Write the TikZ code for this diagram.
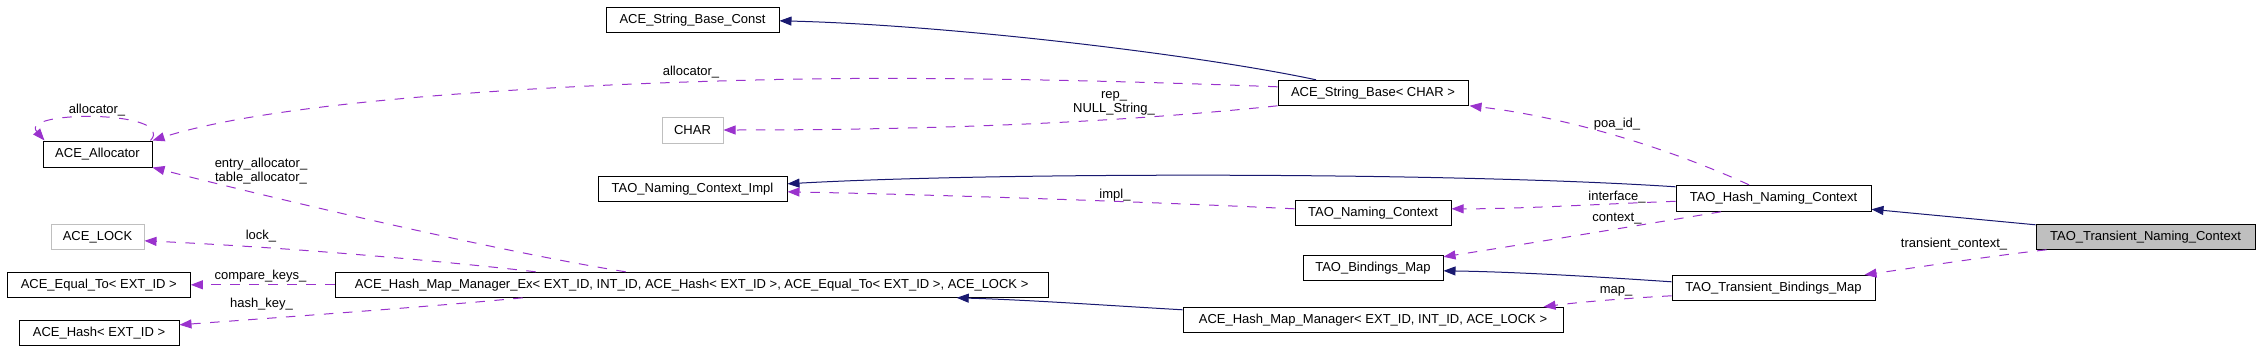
\documentclass[tikz,border=0pt]{standalone}
\usepackage{fontspec}
\setmainfont{Liberation Sans}
\usetikzlibrary{arrows.meta}
\definecolor{edgenavy}{HTML}{191970}
\definecolor{edgepurple}{HTML}{9A32CD}
\definecolor{boxgray}{HTML}{BFBFBF}
\tikzset{
  box/.style={draw=black, line width=1pt, minimum height=25pt, inner sep=0pt, font=\fontsize{13}{13}\selectfont},
  graybox/.style={box, draw=boxgray},
  inh/.style={draw=edgenavy, line width=1pt, -{Triangle[length=12pt,width=9pt]}},
  usage/.style={draw=edgepurple, line width=1pt, dash pattern=on 9.5pt off 9.5pt, -{Triangle[length=12pt,width=9pt]}},
  lbl/.style={font=\fontsize{13}{14}\selectfont, inner sep=0pt, align=center}
}
\begin{document}
\begin{tikzpicture}[x=1pt,y=-1pt]
\useasboundingbox (0,0) rectangle (2259,361);
% nodes
\node[box, minimum width=109pt, minimum height=26pt] (alloc) at (97.5,154) {ACE\_Allocator};
\node[graybox, minimum width=93pt] (lock) at (97.5,236.8) {ACE\_LOCK};
\node[box, minimum width=183pt] (eq) at (98.8,284.8) {ACE\_Equal\_To< EXT\_ID >};
\node[box, minimum width=160pt] (hash) at (99,332.8) {ACE\_Hash< EXT\_ID >};
\node[box, minimum width=173pt] (sbc) at (692.5,19.8) {ACE\_String\_Base\_Const};
\node[graybox, minimum width=61pt, minimum height=26pt] (char) at (692.5,130) {CHAR};
\node[box, minimum width=189pt] (nci) at (692.5,188.8) {TAO\_Naming\_Context\_Impl};
\node[box, minimum width=713pt] (hmmex) at (691.7,284.8) {ACE\_Hash\_Map\_Manager\_Ex< EXT\_ID, INT\_ID, ACE\_Hash< EXT\_ID >, ACE\_Equal\_To< EXT\_ID >, ACE\_LOCK >};
\node[box, minimum width=190pt] (sb) at (1373,92.8) {ACE\_String\_Base< CHAR >};
\node[box, minimum width=156pt] (nc) at (1373,212.8) {TAO\_Naming\_Context};
\node[box, minimum width=140pt] (bm) at (1373,267.8) {TAO\_Bindings\_Map};
\node[box, minimum width=380pt] (hmm) at (1373,319.8) {ACE\_Hash\_Map\_Manager< EXT\_ID, INT\_ID, ACE\_LOCK >};
\node[box, minimum width=195pt, minimum height=26pt] (hnc) at (1773.5,198.3) {TAO\_Hash\_Naming\_Context};
\node[box, minimum width=203pt] (tbm) at (1773.5,287.8) {TAO\_Transient\_Bindings\_Map};
\node[box, fill=boxgray, minimum width=219pt] (tnc) at (2145.5,236.8) {TAO\_Transient\_Naming\_Context};
% inheritance edges
\draw[inh] ([yshift=-2pt]hnc.north west) .. controls (1450,172) and (1000,172) .. ([yshift=5pt]nci.east);
\draw[inh] ([xshift=-57pt]sb.north) .. controls (1200,55) and (950,25) .. ([yshift=-1pt]sbc.east);
\draw[inh] ([yshift=6pt]tbm.west) .. controls (1600,277) and (1520,272) .. ([yshift=-3pt]bm.east);
\draw[inh] ([yshift=10pt]hmm.west) .. controls (1100,305) and (1030,300) .. ([xshift=265pt]hmmex.south);
\draw[inh] ([yshift=-1pt]tnc.north west) -- ([yshift=-11pt]hnc.east);
% usage edges
\draw[usage] ([yshift=6pt]sb.west) .. controls (1100,80) and (900,76) .. (756,80) .. controls (550,85) and (280,100) .. (alloc.north east);
\draw[usage] ([xshift=-2pt]alloc.north east) .. controls (178,110) and (18,110) .. ([xshift=2pt]alloc.north west);
\draw[usage] (sb.south west) .. controls (1170,117) and (1000,130) .. (char.east);
\draw[usage] ([xshift=-24.5pt]hnc.north) .. controls (1650,140) and (1550,115) .. ([xshift=1pt]sb.south east);
\draw[usage] ([yshift=4pt]nc.west) .. controls (1150,202) and (950,195) .. ([yshift=-3pt]nci.east);
\draw[usage] ([yshift=-3pt]hnc.west) .. controls (1600,204) and (1520,209) .. ([yshift=4pt]nc.east);
\draw[usage] ([xshift=-52.5pt]hnc.south) .. controls (1640,225) and (1520,245) .. ([yshift=11pt]bm.east);
\draw[usage] ([yshift=-8pt]tbm.west) .. controls (1630,298) and (1580,302) .. ([xshift=-20pt]hmm.north east);
\draw[usage] ([xshift=11pt]tnc.south west) .. controls (1990,256) and (1920,267) .. ([xshift=-11pt]tbm.north east);
\draw[usage] ([xshift=-66pt]hmmex.north) .. controls (520,255) and (320,210) .. (alloc.south east);
\draw[usage] ([xshift=-156pt]hmmex.north) .. controls (450,262) and (300,248) .. ([yshift=-4pt]lock.east);
\draw[usage] (hmmex.west) -- (eq.east);
\draw[usage] ([xshift=-169pt]hmmex.south) .. controls (450,305) and (300,316) .. ([yshift=8pt]hash.east);
% labels
\node[lbl] (l1) at (691,72) {allocator\_};
\node[lbl] (l2) at (97,110) {allocator\_};
\node[lbl] (l3) at (1114,103) {rep\_\\NULL\_String\_};
\node[lbl] (l4) at (1617,124) {poa\_id\_};
\node[lbl] (l5) at (1115,195) {impl\_};
\node[lbl] (l6) at (1617,197) {interface\_};
\node[lbl] (l7) at (1617,219) {context\_};
\node[lbl] (l8) at (1616,291) {map\_};
\node[lbl] (l9) at (1954,244) {transient\_context\_};
\node[lbl] (l10) at (261,171.5) {entry\_allocator\_\\table\_allocator\_};
\node[lbl] (l11) at (261,236) {lock\_};
\node[lbl] (l12) at (260.5,276) {compare\_keys\_};
\node[lbl] (l13) at (261.5,304) {hash\_key\_};
\end{tikzpicture}
\end{document}
